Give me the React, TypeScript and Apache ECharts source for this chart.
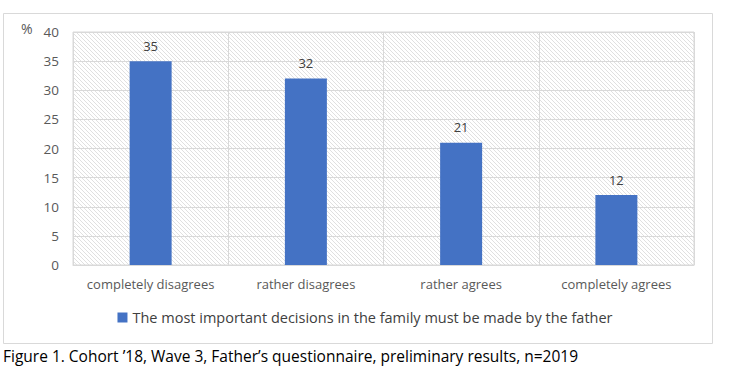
import React, { useEffect, useRef } from "react";
import * as echarts from "echarts";

const categories = ["completely disagrees", "rather disagrees", "rather agrees", "completely agrees"];
const values = [35, 32, 21, 12];
const seriesName = "The most important decisions in the family must be made by the father";
const caption = "Figure 1. Cohort \u201918, Wave 3, Father\u2019s questionnaire, preliminary results, n=2019";

function hatch(): string {
  const n = 4;
  const c = document.createElement("canvas");
  c.width = n;
  c.height = n;
  const ctx = c.getContext("2d")!;
  ctx.fillStyle = "#ffffff";
  ctx.fillRect(0, 0, n, n);
  ctx.fillStyle = "#e0e0e0";
  for (let i = 0; i < n; i++) {
    ctx.fillRect(i, i, 1, 1);
  }
  return c.toDataURL();
}

export default function App() {
  const ref = useRef<HTMLDivElement>(null);
  useEffect(() => {
    document.body.style.margin = "0";
    const chart = echarts.init(ref.current!, null, { renderer: "svg" });
    const font = "'Open Sans', 'Noto Sans', sans-serif";
    chart.setOption({
      animation: false,
      textStyle: { fontFamily: font },
      graphic: [
        {
          type: "rect",
          shape: { x: 3.5, y: 13.5, width: 709, height: 330 },
          style: { fill: "none", stroke: "#d9d9d9", lineWidth: 1 },
          z: -10,
        },
        {
          type: "text",
          left: 21,
          top: 21,
          style: { text: "%", fill: "#595959", font: "14px 'Open Sans', sans-serif" },
        },
        {
          type: "text",
          left: 3,
          top: 348,
          style: { text: caption, fill: "#000000", font: "15.5px 'Open Sans', sans-serif" },
        },
      ],
      legend: {
        bottom: 51,
        left: "center",
        itemWidth: 10,
        itemHeight: 10,
        itemGap: 10,
        icon: "rect",
        textStyle: { color: "#404040", fontSize: 14.5, fontFamily: font },
        data: [seriesName],
      },
      grid: {
        left: 73,
        right: 36,
        top: 32,
        bottom: 116,
        show: true,
        borderColor: "#d9d9d9",
        borderWidth: 1,
        backgroundColor: { image: hatch(), repeat: "repeat" },
      },
      xAxis: {
        type: "category",
        data: categories,
        axisLine: { lineStyle: { color: "#d9d9d9" } },
        axisTick: { show: false },
        axisLabel: { interval: 0, color: "#595959", fontSize: 13, margin: 12, fontFamily: font },
        splitLine: { show: true, interval: 0, lineStyle: { color: "#d9d9d9" } },
      },
      yAxis: {
        type: "value",
        min: 0,
        max: 40,
        interval: 5,
        axisLine: { show: false },
        axisTick: { show: false },
        axisLabel: { color: "#595959", fontSize: 13.5, margin: 14, fontFamily: font },
        splitLine: { lineStyle: { color: "#d9d9d9" } },
      },
      series: [
        {
          name: seriesName,
          type: "bar",
          data: values,
          barWidth: 42,
          itemStyle: { color: "#4472c4" },
          label: { show: true, position: "top", distance: 9, color: "#404040", fontSize: 13, fontFamily: font },
        },
      ],
    });
    return () => chart.dispose();
  }, []);
  return <div ref={ref} style={{ width: 730, height: 381 }} />;
}
